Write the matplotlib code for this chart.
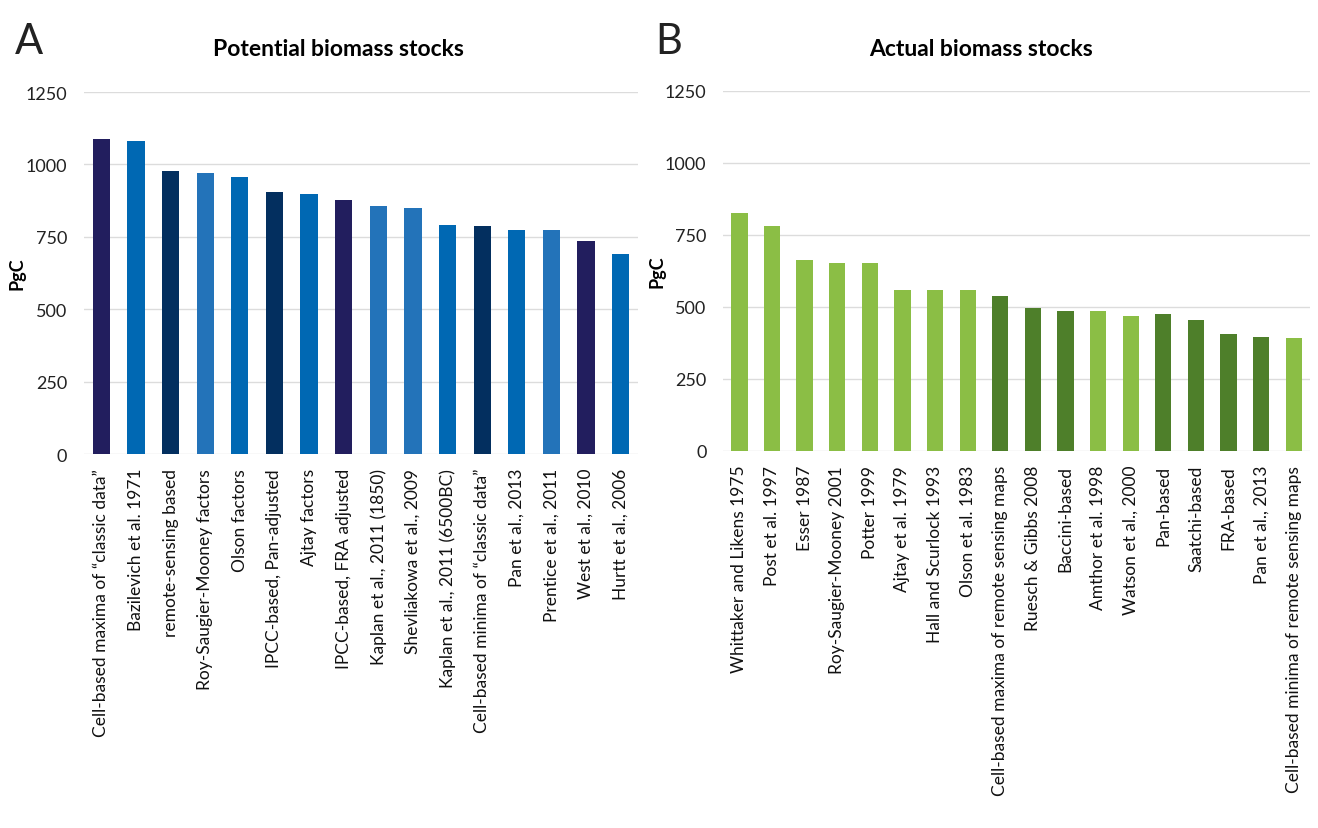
import matplotlib
matplotlib.use("Agg")
import matplotlib.pyplot as plt

# --- data ---
pot_labels = [
    "Cell-based maxima of “classic data”", "Bazilevich et al. 1971",
    "remote-sensing based", "Roy-Saugier-Mooney factors", "Olson factors",
    "IPCC-based, Pan-adjusted", "Ajtay factors", "IPCC-based, FRA adjusted",
    "Kaplan et al., 2011 (1850)", "Shevliakowa et al., 2009",
    "Kaplan et al., 2011 (6500BC)", "Cell-based minima of “classic data”",
    "Pan et al., 2013", "Prentice et al., 2011", "West et al., 2010",
    "Hurtt et al., 2006",
]
pot_values = [1088, 1080, 978, 970, 955, 906, 898, 876, 855, 848, 791, 787,
              772, 772, 734, 692]
pot_group = ["navy", "blue", "dark", "light", "blue", "dark", "blue", "navy",
             "light", "light", "blue", "dark", "blue", "light", "navy", "blue"]

act_labels = [
    "Whittaker and Likens 1975", "Post et al. 1997", "Esser 1987",
    "Roy-Saugier-Mooney 2001", "Potter 1999", "Ajtay et al. 1979",
    "Hall and Scurlock 1993", "Olson et al. 1983",
    "Cell-based maxima of remote sensing maps", "Ruesch & Gibbs 2008",
    "Baccini-based", "Amthor et al. 1998", "Watson et al., 2000", "Pan-based",
    "Saatchi-based", "FRA-based", "Pan et al., 2013",
    "Cell-based minima of remote sensing maps",
]
act_values = [827, 781, 663, 651, 651, 558, 558, 558, 537, 495, 487, 487,
              467, 475, 455, 405, 394, 391]
act_group = ["light"] * 8 + ["dark"] * 3 + ["light"] * 2 + ["dark"] * 4 + \
            ["light", "dark"]

ticks = [0, 250, 500, 750, 1000, 1250]

blues = {"navy": "#221e5e", "blue": "#0068b3", "dark": "#032f5f",
         "light": "#2373b9"}
greens = {"light": "#8bbe45", "dark": "#4e7f2a"}

fnt = "Lato"
plt.rcParams['font.family'] = [fnt, 'DejaVu Sans']

fig = plt.figure(figsize=(13.18, 8.29), dpi=100, facecolor="white")
axA = fig.add_axes([0.0637, 0.4511, 0.4204, 0.4367])
axB = fig.add_axes([0.5486, 0.4548, 0.4454, 0.4343])


def draw(ax, labels, values, cols, ylab_x):
    x = range(len(values))
    ax.bar(x, values, width=0.5, color=cols, zorder=3)
    ax.set_xlim(-0.5, len(values) - 0.5)
    ax.set_ylim(0, 1250)
    ax.set_yticks(ticks)
    ax.set_yticklabels([str(t) for t in ticks], fontsize=13, color="#222222")
    ax.set_xticks(list(x))
    ax.set_xticklabels(labels, rotation=90, fontsize=12.5, color="#111111")
    ax.tick_params(axis="both", length=0)
    ax.tick_params(axis="x", pad=10)
    ax.tick_params(axis="y", pad=12)
    ax.grid(axis="y", color="#dcdcdc", linewidth=1, zorder=0)
    ax.set_axisbelow(True)
    for s in ax.spines.values():
        s.set_visible(False)
    ax.set_ylabel("PgC", fontsize=13, fontweight="bold")
    ax.yaxis.set_label_coords(ylab_x, 0.5)


draw(axA, pot_labels, pot_values, [blues[g] for g in pot_group], -0.105)
draw(axB, act_labels, act_values, [greens[g] for g in act_group], -0.098)

# titles are centred on the whole chart area (incl. y labels), as in Excel
fig.text(0.257, 0.94, "Potential biomass stocks", fontsize=16.5,
         fontweight="bold", ha="center", va="center")
fig.text(0.744, 0.94, "Actual biomass stocks", fontsize=16.5,
         fontweight="bold", ha="center", va="center")

fig.text(0.011, 0.935, "A", fontsize=30, color="#222222")
fig.text(0.497, 0.935, "B", fontsize=30, color="#222222")

fig.savefig("out.png", dpi=100, facecolor="white")
